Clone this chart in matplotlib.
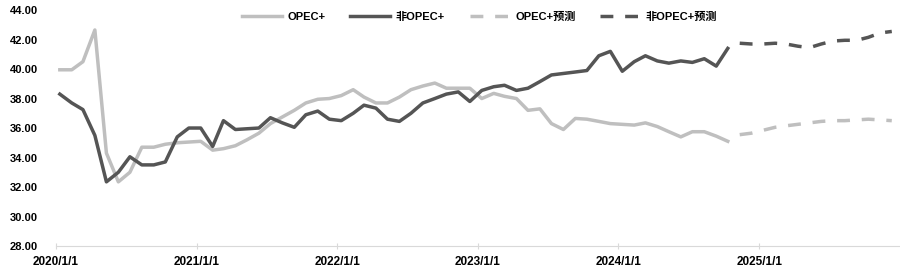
import numpy as np
import pandas as pd
import matplotlib
matplotlib.use("Agg")
import matplotlib.pyplot as plt
import matplotlib.dates as mdates

plt.rcParams['font.family'] = ['Liberation Sans', 'Noto Sans CJK SC', 'DejaVu Sans']

# monthly values, 2020/1 .. 2024/10 (actual) and 2024/11 .. 2025/12 (forecast)
opec = [39.95, 39.95, 40.5, 42.65, 34.3, 32.35, 33.0, 34.7, 34.7, 34.9, 35.0, 35.05,
        35.1, 34.5, 34.6, 34.8, 35.2, 35.65, 36.3, 36.75, 37.2, 37.7, 37.95, 38.0,
        38.2, 38.6, 38.1, 37.7, 37.7, 38.1, 38.6, 38.85, 39.05, 38.7, 38.7, 38.7,
        38.0, 38.35, 38.15, 38.0, 37.2, 37.3, 36.3, 35.9, 36.65, 36.6, 36.45, 36.3,
        36.25, 36.2, 36.35, 36.1, 35.75, 35.4, 35.75, 35.75, 35.45, 35.1]
non_opec = [38.3, 37.7, 37.25, 35.5, 32.35, 33.0, 34.05, 33.5, 33.5, 33.7, 35.4, 36.0,
            36.0, 34.75, 36.5, 35.9, 35.95, 36.0, 36.7, 36.35, 36.05, 36.9, 37.15, 36.6,
            36.5, 37.0, 37.55, 37.35, 36.6, 36.45, 37.0, 37.7, 38.0, 38.3, 38.45, 37.8,
            38.55, 38.8, 38.9, 38.55, 38.7, 39.15, 39.6, 39.7, 39.8, 39.9, 40.9, 41.2,
            39.85, 40.5, 40.9, 40.55, 40.4, 40.55, 40.45, 40.7, 40.2, 41.4]
opec_fc = [35.55, 35.65, 35.85, 36.05, 36.15, 36.25, 36.35, 36.45, 36.5, 36.5,
           36.55, 36.6, 36.55, 36.5]
non_opec_fc = [41.75, 41.7, 41.7, 41.75, 41.7, 41.55, 41.45, 41.7, 41.9, 41.95,
               41.95, 42.15, 42.45, 42.55]
labels = ['OPEC+', '非OPEC+', 'OPEC+预测', '非OPEC+预测']

# points sit a little right of the month start, as in the source chart
shift = pd.Timedelta(days=10)
dates = pd.date_range('2020-01-01', periods=len(opec), freq='MS') + shift
dates_fc = pd.date_range('2024-11-01', periods=len(opec_fc), freq='MS') + shift

light = '#BFBFBF'
dark = '#555555'

fig = plt.figure(figsize=(9, 2.72), dpi=100)
ax = fig.add_axes([0.0622, 0.0956, 0.9368, 0.8674])

ax.plot(dates, opec, color=light, lw=2.5, label=labels[0])
ax.plot(dates, non_opec, color=dark, lw=2.5, label=labels[1])
ax.plot(dates_fc, opec_fc, color=light, lw=2.5, dashes=(3.7, 3.4), label=labels[2])
ax.plot(dates_fc, non_opec_fc, color=dark, lw=2.5, dashes=(3.7, 3.4), label=labels[3])

ax.set_xlim(pd.Timestamp('2020-01-01'), pd.Timestamp('2025-12-30'))
ax.set_ylim(28, 44)
ax.set_yticks(np.arange(28, 44.1, 2))
ax.yaxis.set_major_formatter(matplotlib.ticker.FormatStrFormatter('%.2f'))

ax.xaxis.set_major_locator(mdates.YearLocator())
ax.xaxis.set_major_formatter(mdates.DateFormatter('%Y/1/1'))

for s in ['top', 'right', 'left']:
    ax.spines[s].set_visible(False)
ax.spines['bottom'].set_color('#D9D9D9')
ax.spines['bottom'].set_linewidth(0.8)

ax.tick_params(axis='y', length=0, pad=13, labelsize=8)
ax.tick_params(axis='x', direction='inout', length=5, color='#D9D9D9',
               pad=5, labelsize=8.5)
for t in ax.get_xticklabels() + ax.get_yticklabels():
    t.set_fontweight('bold')

leg = ax.legend(loc='center', bbox_to_anchor=(0.533, 0.937), bbox_transform=fig.transFigure,
                ncol=4, frameon=False, handlelength=3.6, handletextpad=0.5,
                columnspacing=2.2, prop={'size': 8, 'weight': 'bold'})

fig.savefig('out.png', dpi=100)
